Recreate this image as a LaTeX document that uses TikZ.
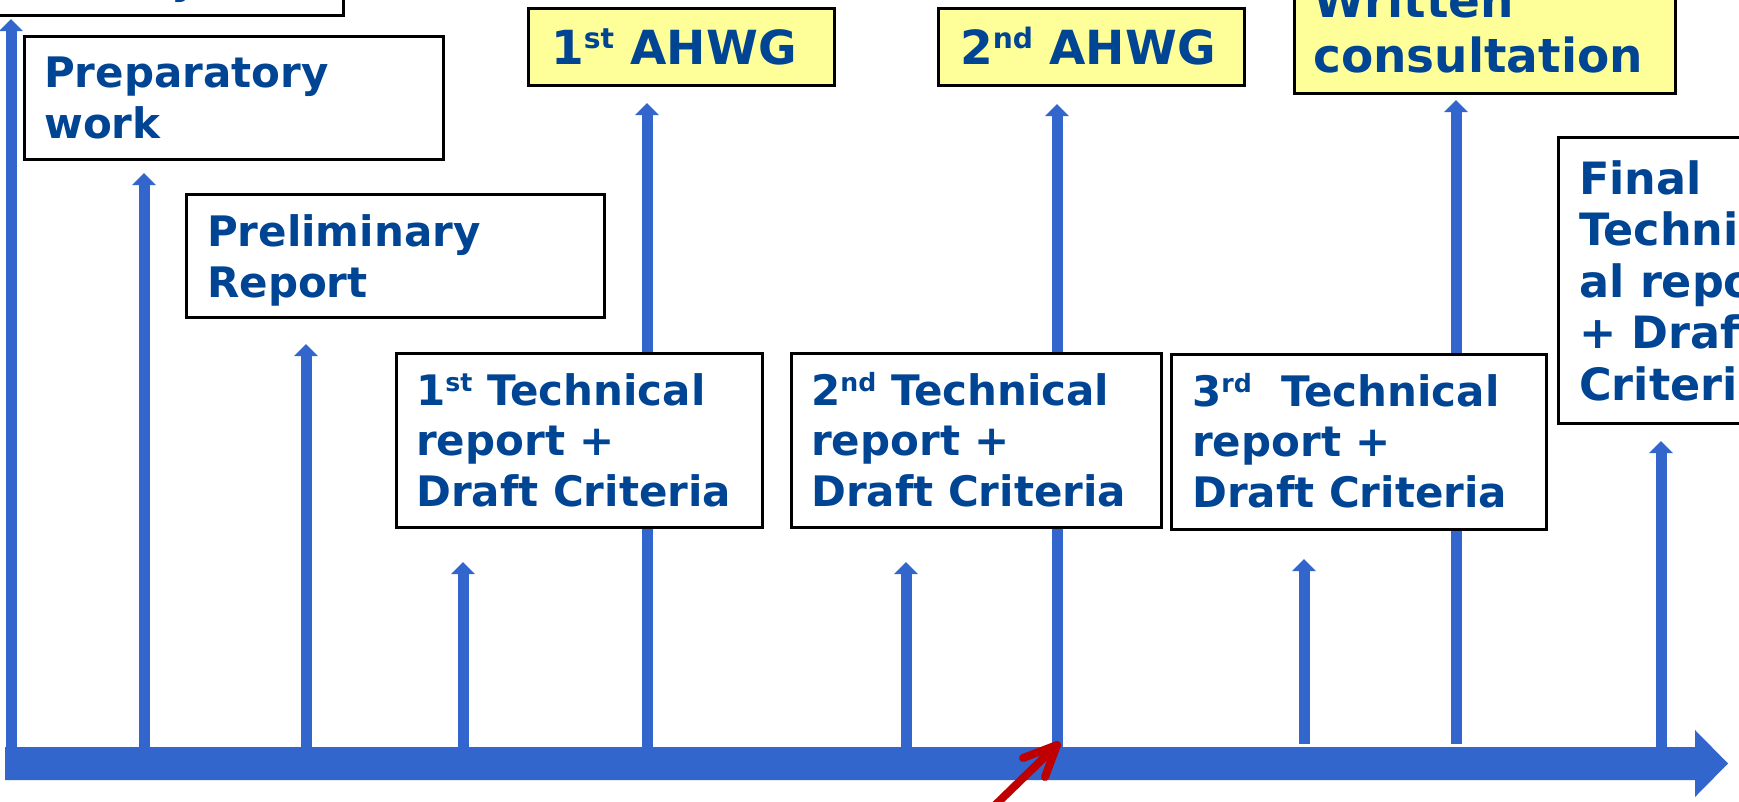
\documentclass[tikz,border=0pt]{standalone}
\usepackage{fontspec}
\usepackage{graphicx}
\setmainfont{DejaVu Sans}
\usetikzlibrary{arrows.meta}
\definecolor{axisblue}{HTML}{3366CC}
\definecolor{labelblue}{HTML}{004494}
\definecolor{meetyellow}{HTML}{FFFF99}
\definecolor{pointerred}{HTML}{C00000}
% raised ordinal suffix (st, nd, rd)
\newcommand\ordsup[1]{\raisebox{0.33em}{\scalebox{0.6}{#1}}}

\begin{document}
\begin{tikzpicture}[x=1pt,y=-1pt,
  stagebox/.style={draw=black, line width=2.5pt, fill=white, inner sep=0pt, anchor=north west},
  meetbox/.style={stagebox, fill=meetyellow},
  % texts are placed by the baseline of their last line
  stagetext/.style={text=labelblue, anchor=base west, inner sep=0pt, align=left,
                    font=\bfseries\fontsize{42}{50.5}\selectfont},
  meettext/.style={stagetext, font=\bfseries\fontsize{47}{55}\selectfont},
  finaltext/.style={stagetext, font=\bfseries\fontsize{44.5}{51.5}\selectfont},
  milestone/.style={draw=axisblue, line width=11pt, -{Triangle[width=23pt,length=12pt]}},
  pointer/.style={draw=pointerred, line width=8pt, line cap=round, line join=round},
]
\useasboundingbox (0,0) rectangle (1739,801);
\clip (0,0) rectangle (1739,801);

% time axis
\fill[axisblue] (5,747) -- (1695,747) -- (1695,730) -- (1728,763.5)
  -- (1695,797) -- (1695,780) -- (5,780) -- cycle;

% milestone arrows rising from the axis
\foreach \n/\x/\tip/\bot in {1/11/19/750, 2/144/173/750, 3/306/344/750,
    4/463/562/750, 5/647/103/750, 6/906/562/750, 7/1057/104/750,
    8/1304/559/744, 9/1456/100/744, 10/1661/441/750}{
  \coordinate (base\n) at (\x,\bot);
  \coordinate (tip\n) at (\x,\tip);
  \draw[milestone] (base\n) -- (tip\n);
}

% stage boxes
\node[stagebox, minimum width=362pt, minimum height=114pt] (start) at (-20,-100) {};
\node[stagetext, anchor=base east] (starttxt) at (199,-7) {Study};

\node[stagebox, minimum width=419pt, minimum height=123pt] (prep) at (23,35) {};
\node[stagetext] (preptxt) at (44,138) {Preparatory\\work};

\node[stagebox, minimum width=418pt, minimum height=123pt] (prelim) at (185,193) {};
\node[stagetext] (prelimtxt) at (207,297) {Preliminary\\Report};

\node[meetbox, minimum width=306pt, minimum height=77pt] (ahwg1) at (527,7) {};
\node[meettext] (ahwg1txt) at (551,64) {1\ordsup{st} AHWG};

\node[stagebox, minimum width=366pt, minimum height=174pt] (tech1) at (395,352) {};
\node[stagetext] (tech1txt) at (416,506) {1\ordsup{st} Technical\\report +\\Draft Criteria};

\node[meetbox, minimum width=306pt, minimum height=77pt] (ahwg2) at (937,7) {};
\node[meettext] (ahwg2txt) at (960,64) {2\ordsup{nd} AHWG};

\node[stagebox, minimum width=370pt, minimum height=174pt] (tech2) at (790,352) {};
\node[stagetext] (tech2txt) at (811,506) {2\ordsup{nd} Technical\\report +\\Draft Criteria};

\node[meetbox, minimum width=381pt, minimum height=152pt] (written) at (1293,-60) {};
\node[meettext] (writtentxt) at (1313,72) {Written\\consultation};

\node[stagebox, minimum width=375pt, minimum height=175pt] (tech3) at (1170,353) {};
\node[stagetext] (tech3txt) at (1192,507) {3\ordsup{rd}\ \ Technical\\report +\\Draft Criteria};

\node[stagebox, minimum width=260pt, minimum height=286pt] (final) at (1557,136) {};
\node[finaltext] (finaltxt) at (1579,400) {Final\\Technic\\al report\\+ Draft\\Criteria};

% red pointer at the second AHWG
\coordinate (redtip) at (1057,745);
\coordinate (redtail) at (985,815);
\coordinate (barbL) at (1023,758);
\coordinate (barbR) at (1045,777);
\draw[pointer] (redtail) -- (redtip);
\draw[pointer] (barbL) -- (redtip) -- (barbR);
\end{tikzpicture}
\end{document}
